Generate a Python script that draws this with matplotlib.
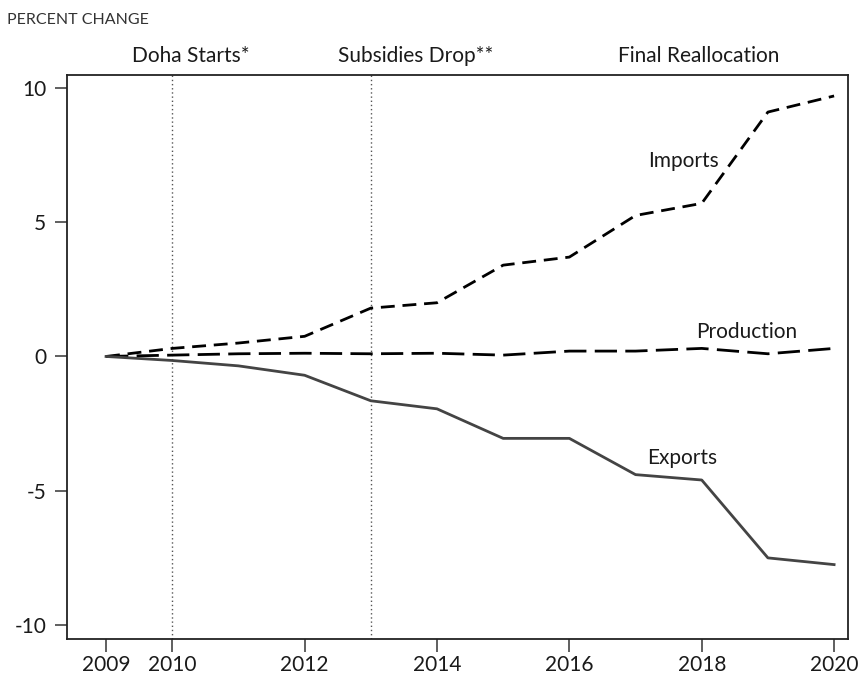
import matplotlib.pyplot as plt

plt.rcParams["font.family"] = ["Lato", "DejaVu Sans"]

# data
years = [2009, 2010, 2011, 2012, 2013, 2014, 2015, 2016, 2017, 2018, 2019, 2020]
imports = [0.0, 0.3, 0.5, 0.75, 1.8, 2.0, 3.4, 3.7, 5.25, 5.7, 9.1, 9.7]
production = [0.0, 0.05, 0.1, 0.12, 0.1, 0.12, 0.05, 0.2, 0.2, 0.3, 0.1, 0.3]
exports = [0.0, -0.15, -0.35, -0.7, -1.65, -1.95, -3.05, -3.05, -4.4, -4.6, -7.5, -7.75]

xticks = [2009, 2010, 2012, 2014, 2016, 2018, 2020]
yticks = [-10, -5, 0, 5, 10]
events = [2010, 2013]
phase_labels = ["Doha Starts*", "Subsidies Drop**", "Final Reallocation"]
phase_x = [2010.28, 2013.68, 2017.95]

fig = plt.figure(figsize=(8.62, 6.78), dpi=100)
ax = fig.add_axes([67 / 862, 1 - 639 / 678, 781 / 862, 564 / 678])

for x in events:
    ax.axvline(x, color="#555555", lw=1, ls=(0, (1, 2)), zorder=1)

ax.plot(years, imports, color="black", lw=2, ls=(0, (5, 2.8)), zorder=3)
ax.plot(years, production, color="black", lw=2, ls=(0, (8, 3)), zorder=3)
ax.plot(years, exports, color="#444444", lw=2, zorder=3)

ax.text(2017.73, 7.28, "Imports", fontsize=15, ha="center", va="center", color="#1a1a1a")
ax.text(2018.68, 0.91, "Production", fontsize=15, ha="center", va="center", color="#1a1a1a")
ax.text(2017.7, -3.78, "Exports", fontsize=15, ha="center", va="center", color="#1a1a1a")

for lab, x in zip(phase_labels, phase_x):
    ax.text(x, 11.2, lab, fontsize=15, ha="center", va="center", color="#1a1a1a",
            clip_on=False)

ax.set_xlim(2008.41, 2020.21)
ax.set_ylim(-10.52, 10.48)
ax.set_xticks(xticks)
ax.set_xticklabels([str(t) for t in xticks])
ax.set_yticks(yticks)
ax.set_yticklabels([str(t) for t in yticks])
ax.tick_params(direction="out", length=9, width=1.2, labelsize=15,
               colors="#444444", labelcolor="#1a1a1a", pad=6)
ax.tick_params(axis="x", pad=2.5)
for s in ax.spines.values():
    s.set_linewidth(1.3)
    s.set_color("#222222")

fig.text(7 / 862, 1 - 20 / 678, "PERCENT CHANGE", fontsize=11.5, color="#333333",
         ha="left", va="center")

fig.savefig("out.png", dpi=100)
